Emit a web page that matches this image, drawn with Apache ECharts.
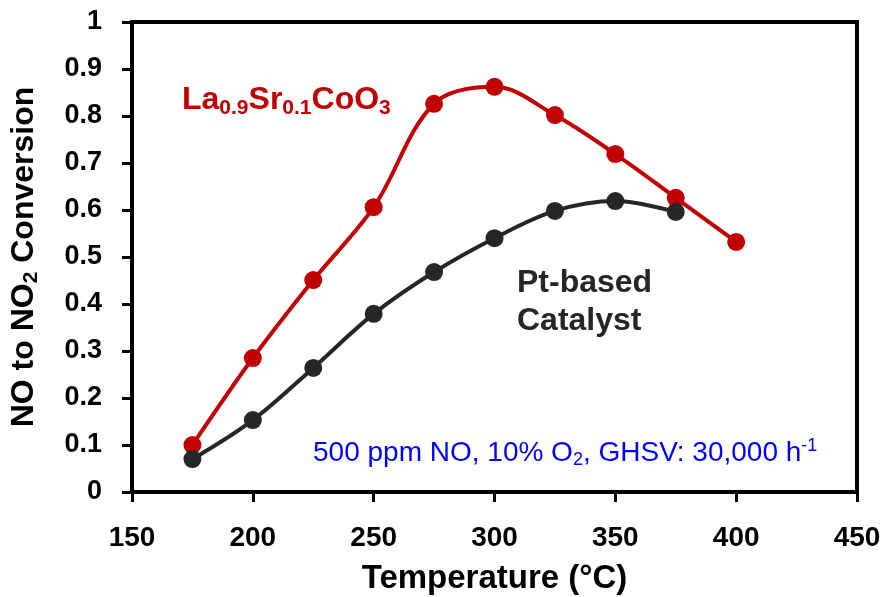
<!DOCTYPE html>
<html>
<head>
<meta charset="utf-8">
<script src="https://cdn.jsdelivr.net/npm/echarts@6/dist/echarts.min.js"></script>
<style>
html, body { margin: 0; padding: 0; background: #fff; }
#chart { width: 883px; height: 597px; }
</style>
</head>
<body>
<div id="chart"></div>
<script>
// temperatures (°C)
var tempLa = [175, 200, 225, 250, 275, 300, 325, 350, 375, 400];
var convLa = [0.10, 0.285, 0.451, 0.606, 0.826, 0.862, 0.802, 0.719, 0.626, 0.532];
var tempPt = [175, 200, 225, 250, 275, 300, 325, 350, 375];
var convPt = [0.07, 0.153, 0.264, 0.379, 0.468, 0.540, 0.598, 0.619, 0.596];

function pairs(xs, ys) {
    return xs.map(function (x, i) { return [x, ys[i]]; });
}

var font = 'Liberation Sans, Arial, sans-serif';
var chart = echarts.init(document.getElementById('chart'));

var option = {
    animation: false,
    grid: {
        left: 132, right: 26, top: 22, bottom: 105,
        outerBoundsMode: 'none',
        show: true, borderColor: '#000', borderWidth: 4
    },
    xAxis: {
        type: 'value', min: 150, max: 450, interval: 50,
        name: 'Temperature (°C)', nameLocation: 'middle', nameGap: 70,
        nameTextStyle: { fontFamily: font, fontWeight: 'bold', fontSize: 33, color: '#000' },
        axisLine: { lineStyle: { color: '#000', width: 4 } },
        axisTick: { inside: false, length: 10, lineStyle: { color: '#000', width: 3 } },
        axisLabel: { margin: 32, fontFamily: font, fontWeight: 'bold', fontSize: 28, color: '#000' },
        splitLine: { show: false }
    },
    yAxis: {
        type: 'value', min: 0, max: 1, interval: 0.1,
        name: '{t|NO to NO}{s|2}{t| Conversion}', nameLocation: 'middle', nameGap: 90, nameRotate: 90,
        nameTextStyle: {
            rich: {
                t: { fontFamily: font, fontWeight: 'bold', fontSize: 32, color: '#000' },
                s: { fontFamily: font, fontWeight: 'bold', fontSize: 21, color: '#000', padding: [14, 0, 0, 0] }
            }
        },
        axisLine: { lineStyle: { color: '#000', width: 4 } },
        axisTick: { inside: false, length: 10, lineStyle: { color: '#000', width: 3 } },
        axisLabel: {
            margin: 30, fontFamily: font, fontWeight: 'bold', fontSize: 27, color: '#000',
            formatter: function (v) { return String(Math.round(v * 10) / 10); }
        },
        splitLine: { show: false }
    },
    series: [
        {
            name: 'La0.9Sr0.1CoO3', type: 'line', smooth: 0.35,
            data: pairs(tempLa, convLa),
            symbol: 'circle', symbolSize: 18,
            lineStyle: { color: '#c00000', width: 4 },
            itemStyle: { color: '#c00000' },
            z: 2
        },
        {
            name: 'Pt-based Catalyst', type: 'line', smooth: 0.35,
            data: pairs(tempPt, convPt),
            symbol: 'circle', symbolSize: 18,
            lineStyle: { color: '#262626', width: 4 },
            itemStyle: { color: '#262626' },
            z: 3
        }
    ],
    graphic: [
        {
            type: 'text', left: 182, top: 84,
            style: {
                text: '{t|La}{s|0.9}{t|Sr}{s|0.1}{t|CoO}{s|3}',
                rich: {
                    t: { fontFamily: font, fontWeight: 'bold', fontSize: 32, fill: '#c00000' },
                    s: { fontFamily: font, fontWeight: 'bold', fontSize: 21, fill: '#c00000', padding: [16, 0, 0, 0] }
                }
            }
        },
        {
            type: 'text', left: 517, top: 264,
            style: {
                text: 'Pt-based\nCatalyst',
                font: 'bold 32px ' + font, fill: '#262626', lineHeight: 38
            }
        },
        {
            type: 'text', left: 313, top: 437,
            style: {
                text: '{t|500 ppm NO, 10% O}{s|2}{t|, GHSV: 30,000 h}{p|-1}',
                rich: {
                    t: { fontFamily: font, fontSize: 28, fill: '#0000ff' },
                    s: { fontFamily: font, fontSize: 18, fill: '#0000ff', padding: [14, 0, 0, 0] },
                    p: { fontFamily: font, fontSize: 18, fill: '#0000ff', padding: [0, 0, 14, 0] }
                }
            }
        }
    ]
};
chart.setOption(option);
</script>
</body>
</html>
